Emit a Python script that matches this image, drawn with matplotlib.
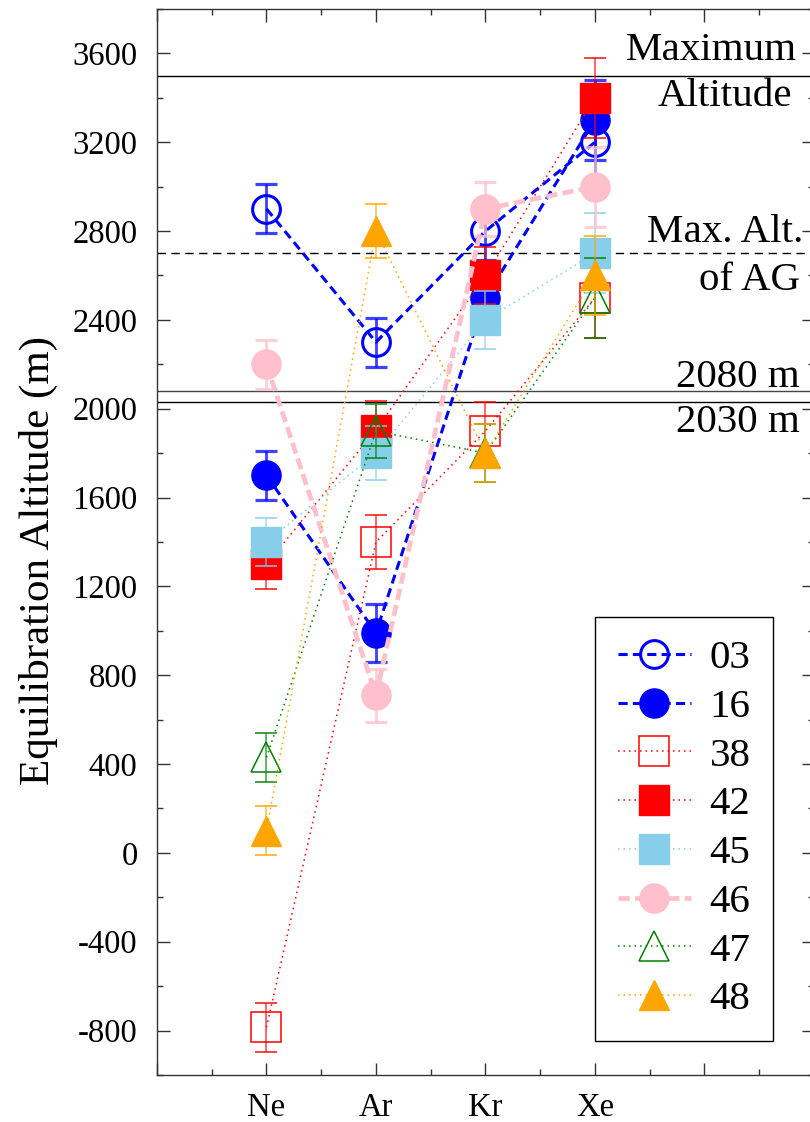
"""Equilibration altitudes per noble gas for each sample, with reference altitude lines."""

import matplotlib
matplotlib.use("Agg")
import matplotlib.pyplot as plt
from matplotlib.ticker import MultipleLocator

plt.rcParams["font.family"] = ["Liberation Serif", "DejaVu Serif"]
plt.rcParams["axes.unicode_minus"] = False

# Data
ELEMENTS = ["Ne", "Ar", "Kr", "Xe"]
SAMPLES = ["03", "16", "38", "42", "45", "46", "47", "48"]

ALT_03 = [2900, 2300, 2800, 3200]
ALT_16 = [1700, 990, 2500, 3300]
ALT_38 = [-785, 1400, 1900, 2500]
ALT_42 = [1300, 1905, 2600, 3400]
ALT_45 = [1400, 1800, 2400, 2700]
ALT_46 = [2200, 710, 2900, 3000]
ALT_47 = [430, 1900, 1800, 2500]
ALT_48 = [100, 2800, 1800, 2600]

ERR_03 = [110, 110, 130, 180]
ERR_16 = [110, 130, 130, 180]
ERR_38 = [110, 120, 130, 180]
ERR_42 = [110, 130, 130, 180]
ERR_45 = [110, 120, 130, 180]
ERR_46 = [110, 120, 120, 180]
ERR_47 = [110, 120, 130, 180]
ERR_48 = [110, 120, 130, 180]

REF_ALT = [3500, 2700, 2080, 2030]
REF_TEXT = ["Maximum", "Altitude", "Max. Alt.", "of AG", "2080 m", "2030 m"]

x = list(range(1, len(ELEMENTS) + 1))
series = {
    "03": (ALT_03, ERR_03), "16": (ALT_16, ERR_16), "38": (ALT_38, ERR_38),
    "42": (ALT_42, ERR_42), "45": (ALT_45, ERR_45), "46": (ALT_46, ERR_46),
    "47": (ALT_47, ERR_47), "48": (ALT_48, ERR_48),
}

DOT = (0, (1, 2.6))
# color, marker, filled, linestyle, line width, edge width, errorbar width
styles = {
    "03": ("blue", "o", False, (0, (3, 1.7)), 2.2, 2.2, 2.0),
    "16": ("blue", "o", True, (0, (3, 1.7)), 2.2, 1.0, 2.0),
    "38": ("red", "s", False, DOT, 1.1, 1.1, 1.1),
    "42": ("red", "s", True, DOT, 1.1, 1.0, 1.1),
    "45": ("skyblue", "s", True, DOT, 1.1, 1.0, 1.1),
    "46": ("pink", "o", True, (0, (2.4, 1.1)), 3.4, 1.0, 2.0),
    "47": ("green", "^", False, DOT, 1.1, 1.1, 1.1),
    "48": ("orange", "^", True, DOT, 1.1, 1.0, 1.1),
}

fig = plt.figure(figsize=(8.1, 11.22), dpi=100)
ax = fig.add_axes([0.1938, 0.0419, 0.8111, 0.9501])

for name in SAMPLES:
    alt, err = series[name]
    color, marker, filled, ls, lw, mew, elw = styles[name]
    ax.errorbar(x, alt, yerr=err, fmt="none", ecolor=color, elinewidth=elw,
                capsize=8, capthick=elw + 0.3, alpha=0.75)
    ax.plot(x, alt, color=color, linestyle=ls, linewidth=lw,
            marker=marker, markersize=21 if marker != "o" or filled else 20,
            markerfacecolor=color if filled else "none",
            markeredgecolor=color, markeredgewidth=mew, label=name)

# Reference altitude lines
ax.axhline(REF_ALT[0], color="black", linewidth=1.0, zorder=1)
ax.axhline(REF_ALT[1], color="black", linewidth=1.0, linestyle=(0, (6, 4)), zorder=1)
ax.axhline(REF_ALT[2], color="#444444", linewidth=1.0, zorder=1)
ax.axhline(REF_ALT[3], color="black", linewidth=1.0, zorder=1)

text_x = [5.845, 5.80, 5.90, 5.87, 5.87, 5.87]
text_y = [3570, 3365, 2750, 2535, 2100, 1897]
for label, tx, ty in zip(REF_TEXT, text_x, text_y):
    ax.text(tx, ty, label, ha="right", va="baseline", fontsize=29.5)

ax.set_xlim(0, 6)
ax.set_ylim(-1000, 3800)
ax.set_xticks(range(0, 7))
ax.set_xticklabels([""] + ELEMENTS + ["", ""])
ax.xaxis.set_minor_locator(MultipleLocator(0.5))
ax.yaxis.set_major_locator(MultipleLocator(400))
ax.yaxis.set_minor_locator(MultipleLocator(200))
ax.set_yticks(range(-800, 3601, 400))

ax.tick_params(which="both", direction="in", top=True, right=True,
               width=1.0, color="#333333")
ax.tick_params(which="major", length=9, labelsize=23.5)
ax.tick_params(which="minor", length=4.5)
ax.tick_params(axis="y", pad=14)
ax.tick_params(axis="x", pad=12.5)
for sp in ax.spines.values():
    sp.set_linewidth(1.0)
    sp.set_color("#333333")

ax.set_ylabel("Equilibration Altitude (m)", fontsize=31)
ax.yaxis.set_label_coords(-0.151, 0.483)

leg = ax.legend(loc="upper left", bbox_to_anchor=(0.6667, 0.4296),
                borderaxespad=0, fontsize=29.5, handlelength=1.8,
                handletextpad=0.45, borderpad=0.55, labelspacing=0.27,
                fancybox=False, framealpha=1, edgecolor="black")
leg.get_frame().set_linewidth(1.0)

fig.savefig("out.png", dpi=100)
